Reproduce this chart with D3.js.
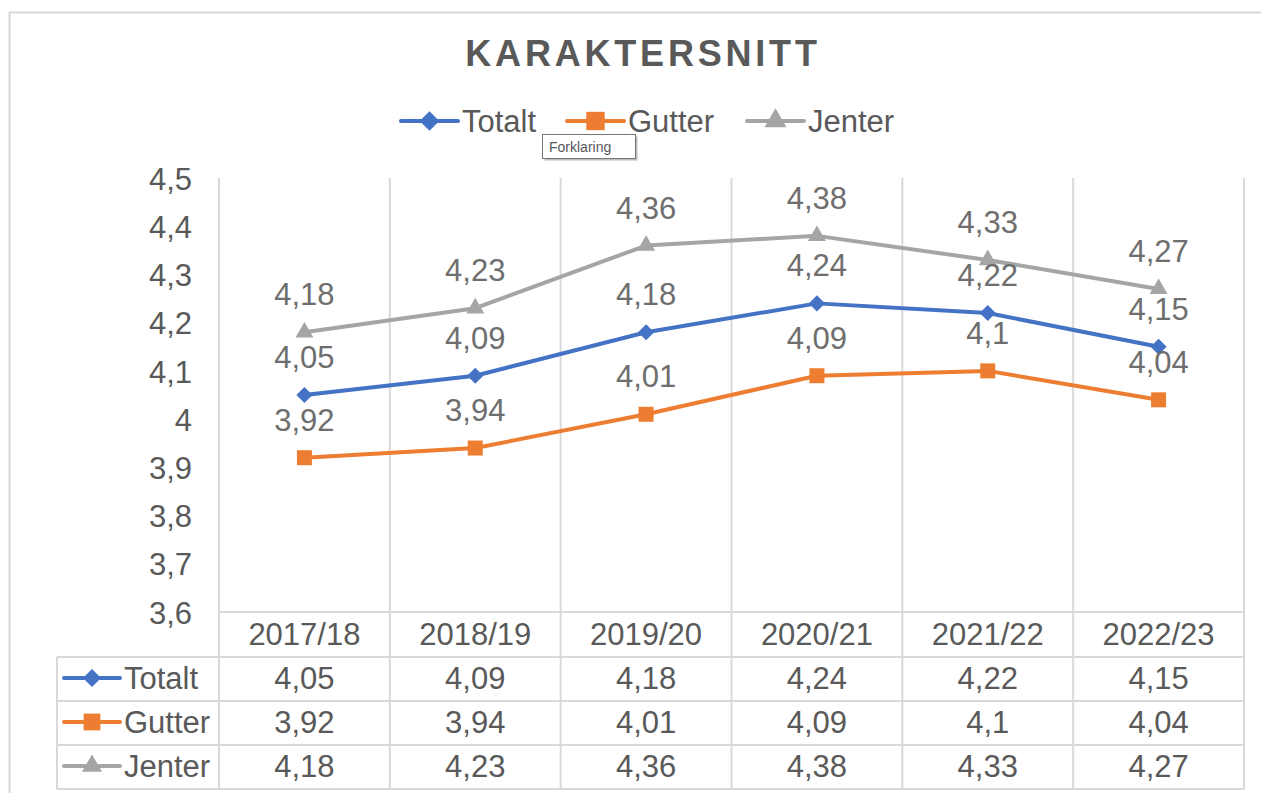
<!DOCTYPE html>
<html>
<head>
<meta charset="utf-8">
<script src="https://cdn.jsdelivr.net/npm/d3@7"></script>
<style>
  body { margin: 0; background: #fff; }
  text { font-family: "Liberation Sans", Arial, sans-serif; }
</style>
</head>
<body>
<div id="chart"></div>
<script>
// data
var categories = ["2017/18", "2018/19", "2019/20", "2020/21", "2021/22", "2022/23"];
var seriesNames = ["Totalt", "Gutter", "Jenter"];
var totalt = [4.05, 4.09, 4.18, 4.24, 4.22, 4.15];
var gutter = [3.92, 3.94, 4.01, 4.09, 4.1, 4.04];
var jenter = [4.18, 4.23, 4.36, 4.38, 4.33, 4.27];
var yTicks = [3.6, 3.7, 3.8, 3.9, 4, 4.1, 4.2, 4.3, 4.4, 4.5];

function drawChart() {
    var seriesValues = [totalt, gutter, jenter];
    var colors = ["#4472C4", "#ED7D31", "#A5A5A5"];
    var markers = [d3.symbolSquare, d3.symbolSquare, d3.symbolTriangle];
    var markerSize = [130, 225, 140];
    var markerRot = [45, 0, 0];

    var W = 1261, H = 793;
    var plotLeft = 219, plotRight = 1244, plotTop = 178, plotBottom = 612;
    var rowH = 44;
    var tableLeft = 57;
    var textColor = "#595959";
    var labelColor = "#6e6e6e";
    var gridColor = "#d9d9d9";
    var fs = 31;

    // norsk tallformat med komma
    var no = d3.formatLocale({decimal: ",", thousands: " ", grouping: [3], currency: ["", " kr"]});
    var fmt = no.format("~g");

    var svg = d3.select("#chart").append("svg")
        .attr("width", W)
        .attr("height", H);

    // outer chart border
    svg.append("rect")
        .attr("x", 9.5).attr("y", 12.5)
        .attr("width", W + 20).attr("height", H + 20)
        .attr("fill", "none")
        .attr("stroke", gridColor)
        .attr("stroke-width", 2);

    var x = d3.scaleBand().domain(categories).range([plotLeft, plotRight]);
    var y = d3.scaleLinear().domain([3.6, 4.5]).range([plotBottom, plotTop]);
    function cx(i) { return x(categories[i]) + x.bandwidth() / 2; }

    // vertical category separators (plot + table)
    svg.append("g").selectAll("line")
        .data(d3.range(categories.length + 1))
        .enter().append("line")
        .attr("x1", function(i) { return plotLeft + i * x.bandwidth(); })
        .attr("x2", function(i) { return plotLeft + i * x.bandwidth(); })
        .attr("y1", plotTop)
        .attr("y2", plotBottom + rowH * 4 + 1)
        .attr("stroke", gridColor)
        .attr("stroke-width", 2);

    // table horizontal lines
    svg.append("g").selectAll("line")
        .data(d3.range(5))
        .enter().append("line")
        .attr("x1", function(i) { return i === 0 ? plotLeft : tableLeft; })
        .attr("x2", plotRight)
        .attr("y1", function(i) { return plotBottom + i * rowH + (i > 0 ? 1 : 0); })
        .attr("y2", function(i) { return plotBottom + i * rowH + (i > 0 ? 1 : 0); })
        .attr("stroke", gridColor)
        .attr("stroke-width", 2);

    svg.append("line")
        .attr("x1", tableLeft).attr("x2", tableLeft)
        .attr("y1", plotBottom + rowH + 1).attr("y2", plotBottom + rowH * 4 + 1)
        .attr("stroke", gridColor).attr("stroke-width", 2);

    // y axis labels
    var yAxis = d3.axisLeft(y).tickValues(yTicks).tickFormat(fmt).tickSize(0).tickPadding(0);
    var yg = svg.append("g").attr("transform", "translate(192,0)").call(yAxis);
    yg.select(".domain").remove();
    yg.selectAll("text")
        .attr("font-size", fs)
        .attr("fill", textColor)
        .attr("dy", "0.36em")
        .attr("font-family", "Liberation Sans, Arial, sans-serif");

    // title
    svg.append("text")
        .attr("x", 643).attr("y", 66)
        .attr("text-anchor", "middle")
        .attr("font-size", 36)
        .attr("font-weight", "bold")
        .attr("letter-spacing", 3.8)
        .attr("fill", textColor)
        .text("KARAKTERSNITT");

    // legend key helper: line + marker
    function legendKey(g, i, x0, yc, len, k) {
        g.append("line")
            .attr("x1", x0).attr("x2", x0 + len)
            .attr("y1", yc).attr("y2", yc)
            .attr("stroke", colors[i])
            .attr("stroke-width", 4)
            .attr("stroke-linecap", "round");
        g.append("path")
            .attr("d", d3.symbol().type(markers[i]).size(markerSize[i] * k)())
            .attr("transform", "translate(" + (x0 + len / 2) + "," + yc + ") rotate(" + markerRot[i] + ")")
            .attr("fill", colors[i]);
    }

    // legend on top
    var legendX = [401, 567, 747];
    seriesNames.forEach(function(name, i) {
        var g = svg.append("g");
        legendKey(g, i, legendX[i], 121, 57, 1.5);
        g.append("text")
            .attr("x", legendX[i] + 61).attr("y", 132)
            .attr("font-size", fs)
            .attr("fill", textColor)
            .text(name);
    });

    // lines and markers
    var line = d3.line()
        .x(function(d, i) { return cx(i); })
        .y(function(d) { return y(d); });

    seriesValues.forEach(function(vals, s) {
        var g = svg.append("g");
        g.append("path")
            .datum(vals)
            .attr("d", line)
            .attr("fill", "none")
            .attr("stroke", colors[s])
            .attr("stroke-width", 4)
            .attr("stroke-linejoin", "round");
        g.selectAll(".m")
            .data(vals)
            .enter().append("path")
            .attr("d", d3.symbol().type(markers[s]).size(markerSize[s]))
            .attr("transform", function(d, i) {
                return "translate(" + cx(i) + "," + y(d) + ") rotate(" + markerRot[s] + ")";
            })
            .attr("fill", colors[s]);
    });

    // data labels above each point
    seriesValues.forEach(function(vals, s) {
        svg.append("g").selectAll("text")
            .data(vals)
            .enter().append("text")
            .attr("x", function(d, i) { return cx(i); })
            .attr("y", function(d) { return y(d) - 27; })
            .attr("text-anchor", "middle")
            .attr("font-size", fs)
            .attr("fill", labelColor)
            .text(function(d) { return fmt(d); });
    });

    // tooltip "Forklaring"
    var tip = svg.append("g").attr("transform", "translate(542,134)");
    tip.append("rect").attr("x", 2.5).attr("y", 2.5).attr("width", 93).attr("height", 24).attr("fill", "#bdbdbd");
    tip.append("rect").attr("x", 0.5).attr("y", 0.5).attr("width", 93).attr("height", 24)
        .attr("fill", "#fff").attr("stroke", "#767676").attr("stroke-width", 1);
    tip.append("text").attr("x", 7).attr("y", 18).attr("font-size", 14)
        .attr("font-family", "Noto Sans, DejaVu Sans, sans-serif")
        .attr("fill", "#575757").text("Forklaring");

    // data table: header row with categories
    svg.append("g").selectAll("text")
        .data(categories)
        .enter().append("text")
        .attr("x", function(d, i) { return cx(i); })
        .attr("y", plotBottom + 33)
        .attr("text-anchor", "middle")
        .attr("font-size", fs)
        .attr("fill", textColor)
        .text(function(d) { return d; });

    // data table rows
    seriesValues.forEach(function(vals, s) {
        var rowY = plotBottom + rowH * (s + 1);
        var g = svg.append("g");
        legendKey(g, s, 64, rowY + rowH / 2, 56, 1.25);
        g.append("text")
            .attr("x", 124).attr("y", rowY + 33)
            .attr("font-size", fs)
            .attr("fill", textColor)
            .text(seriesNames[s]);
        g.selectAll(".v")
            .data(vals)
            .enter().append("text")
            .attr("x", function(d, i) { return cx(i); })
            .attr("y", rowY + 33)
            .attr("text-anchor", "middle")
            .attr("font-size", fs)
            .attr("fill", textColor)
            .text(function(d) { return fmt(d); });
    });
}

window.onload = drawChart;
</script>
</body>
</html>
